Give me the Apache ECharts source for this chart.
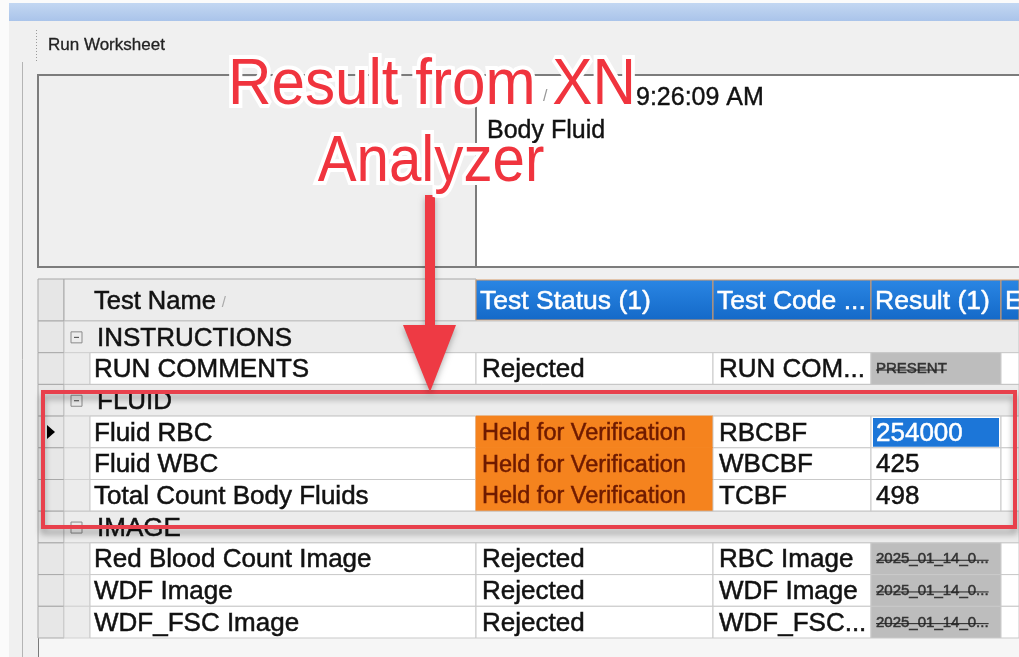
<!DOCTYPE html>
<html>
<head>
<meta charset="utf-8">
<title>Run Worksheet</title>
<script src="https://cdn.jsdelivr.net/npm/echarts@6/dist/echarts.min.js"></script>
<style>
html, body { margin: 0; padding: 0; background: #f0f0f0; }
#container { width: 1019px; height: 657px; }
</style>
</head>
<body>
<div id="container"></div>
<script>
var dom = document.getElementById('container');
var myChart = echarts.init(dom, null, { renderer: 'canvas' });

// table content
var headers = ['Test Name', 'Test Status (1)', 'Test Code ...', 'Result (1)', 'E'];
var rowNames = ['INSTRUCTIONS', 'RUN COMMENTS', 'FLUID', 'Fluid RBC', 'Fluid WBC', 'Total Count Body Fluids',
    'IMAGE', 'Red Blood Count Image', 'WDF Image', 'WDF_FSC Image'];
var rowKinds = ['group', 'item', 'group', 'item', 'item', 'item', 'group', 'item', 'item', 'item'];
var testStatus = ['', 'Rejected', '', 'Held for Verification', 'Held for Verification', 'Held for Verification',
    '', 'Rejected', 'Rejected', 'Rejected'];
var testCode = ['', 'RUN COM...', '', 'RBCBF', 'WBCBF', 'TCBF', '', 'RBC Image', 'WDF Image', 'WDF_FSC...'];
var results = ['', 'PRESENT', '', '254000', '425', '498', '', '2025_01_14_0...', '2025_01_14_0...', '2025_01_14_0...'];
var currentRow = 'Fluid RBC';
var runTime = '9:26:09 AM';
var runType = 'Body Fluid';
var noteLines = ['Result from XN', 'Analyzer'];

// column edges in px from the table's left border (layout only)
var colEdges = [0, 26, 438, 675, 833, 963, 981];
var indent = 52;
var FONT = 'Liberation Sans, Arial, sans-serif';
var DY = 1.5; // nudge text to sit like the original

var measure = document.createElement('canvas').getContext('2d');
function textWidth(s, font) {
    measure.font = font;
    return measure.measureText(s).width;
}

function cell(x0, x1, top, h, fill, stroke) {
    return {
        type: 'rect',
        shape: { x: x0, y: top, width: x1 - x0, height: h },
        style: { fill: fill, stroke: stroke || '#c9c9c9', lineWidth: 1 }
    };
}
function label(s, x, y, size, color) {
    var c = color || '#111';
    return {
        type: 'text',
        style: {
            text: s, x: x, y: y + DY, font: size + 'px ' + FONT, fill: c,
            stroke: c, lineWidth: 0.5, align: 'left', verticalAlign: 'middle'
        }
    };
}

function renderHeader(params, api) {
    var yc = api.coord([0, 0])[1];
    var h = api.size([0, 1])[1];
    var top = yc - h / 2;
    var X = function (v) { return api.coord([v, 0])[0]; };
    var kids = [];
    kids.push(cell(X(colEdges[0]), X(colEdges[1]), top, h, '#e6e6e6', '#a8a8a8'));
    kids.push(cell(X(colEdges[1]), X(colEdges[2]), top, h, '#ececec', '#a8a8a8'));
    kids.push(label(headers[0], X(colEdges[1]) + 30, yc, 25.5, '#111'));
    kids.push({
        type: 'text',
        style: {
            text: '/', x: X(colEdges[1]) + 30 + textWidth(headers[0], '25.5px ' + FONT) + 6, y: yc + 3,
            font: '15px ' + FONT, fill: '#aaa', verticalAlign: 'middle'
        }
    });
    for (var i = 1; i < headers.length; i++) {
        var x0 = X(colEdges[i + 1]), x1 = X(colEdges[i + 2]);
        kids.push({
            type: 'rect',
            shape: { x: x0, y: top + 1, width: x1 - x0, height: h - 2 },
            style: {
                fill: new echarts.graphic.LinearGradient(0, 0, 0, 1, [
                    { offset: 0, color: '#2a86e4' }, { offset: 1, color: '#1469c8' }
                ]),
                stroke: '#d59a68', lineWidth: 1
            }
        });
        kids.push(label(headers[i], x0 + 4, yc, 26.5, '#ffffff'));
    }
    return { type: 'group', children: kids };
}

function renderBody(params, api) {
    var r = api.value(1);
    var yc = api.coord([0, r])[1];
    var h = api.size([0, 1])[1];
    var top = yc - h / 2;
    var X = function (v) { return api.coord([v, r])[0]; };
    var kids = [];
    kids.push(cell(X(colEdges[0]), X(colEdges[1]), top, h, '#e7e7e7', '#a9a9a9'));
    if (rowKinds[r] === 'group') {
        kids.push(cell(X(colEdges[1]), X(colEdges[6]), top, h, '#ececec', '#c4c4c4'));
        var bx = X(colEdges[1]) + 7;
        kids.push({ type: 'rect', shape: { x: bx, y: yc - 5, width: 11, height: 11 }, style: { fill: 'none', stroke: '#8a8a8a', lineWidth: 1 } });
        kids.push({ type: 'line', shape: { x1: bx + 3, y1: yc + 0.5, x2: bx + 8, y2: yc + 0.5 }, style: { stroke: '#444', lineWidth: 1 } });
        kids.push(label(rowNames[r], X(colEdges[1]) + 33, yc, 26, '#111'));
    } else {
        kids.push(cell(X(colEdges[1]), X(indent), top, h, '#ececec', '#d2d2d2'));
        kids.push(cell(X(indent), X(colEdges[2]), top, h, '#ffffff'));
        kids.push(label(rowNames[r], X(indent) + 4, yc, 26));

        var held = testStatus[r] === 'Held for Verification';
        kids.push(cell(X(colEdges[2]), X(colEdges[3]), top, h, held ? '#f5831e' : '#ffffff', held ? '#f5831e' : '#c9c9c9'));
        if (held) {
            kids.push(label(testStatus[r], X(colEdges[2]) + 6, yc, 23.5, '#6e1a00'));
        } else {
            kids.push(label(testStatus[r], X(colEdges[2]) + 6, yc, 26));
        }

        kids.push(cell(X(colEdges[3]), X(colEdges[4]), top, h, '#ffffff'));
        kids.push(label(testCode[r], X(colEdges[3]) + 6, yc, 26));

        var rx0 = X(colEdges[4]), rx1 = X(colEdges[5]);
        if (rowNames[r] === currentRow) {
            kids.push(cell(rx0, rx1, top, h, '#ffffff'));
            kids.push({ type: 'rect', shape: { x: rx0 + 2, y: top + 2, width: rx1 - rx0 - 4, height: h - 3 }, style: { fill: '#1c76d8' } });
            kids.push(label(results[r], rx0 + 5, yc, 26, '#ffffff'));
        } else if (testStatus[r] === 'Rejected') {
            kids.push(cell(rx0, rx1, top, h, '#bdbdbd', '#c9c9c9'));
            var f = '15px ' + FONT;
            var w = Math.min(textWidth(results[r], f), rx1 - rx0 - 8);
            kids.push(label(results[r], rx0 + 5, yc - 1, 15, '#333'));
            kids.push({ type: 'line', shape: { x1: rx0 + 5, y1: yc + 1.5, x2: rx0 + 5 + w, y2: yc + 1.5 }, style: { stroke: '#222', lineWidth: 1 } });
        } else {
            kids.push(cell(rx0, rx1, top, h, '#ffffff'));
            kids.push(label(results[r], rx0 + 5, yc, 26));
        }
        kids.push(cell(rx1, X(colEdges[6]), top, h, '#ffffff'));

        if (rowNames[r] === currentRow) {
            var cx = X(colEdges[0]) + 9;
            kids.push({ type: 'polygon', shape: { points: [[cx, yc - 7], [cx, yc + 7], [cx + 8, yc]] }, style: { fill: '#000' } });
        }
    }
    return { type: 'group', children: kids };
}

var bodyData = rowNames.map(function (n, i) { return [0, i]; });

option = {
    backgroundColor: '#f0f0f0',
    animation: false,
    grid: [
        { left: 38, right: 0, top: 279, height: 42 },
        { left: 38, right: 0, top: 321, height: 317 }
    ],
    xAxis: [
        { type: 'value', gridIndex: 0, min: 0, max: 981, show: false },
        { type: 'value', gridIndex: 1, min: 0, max: 981, show: false }
    ],
    yAxis: [
        { type: 'category', gridIndex: 0, data: ['header'], show: false },
        { type: 'category', gridIndex: 1, data: rowNames, inverse: true, show: false }
    ],
    graphic: [
        // window chrome
        { type: 'rect', z: -10, shape: { x: 0, y: 0, width: 9, height: 657 }, style: { fill: '#fbfbfb' } },
        { type: 'rect', z: -10, shape: { x: 0, y: 0, width: 1019, height: 3 }, style: { fill: '#fbfbfb' } },
        {
            type: 'rect', z: -9, shape: { x: 9, y: 3, width: 1010, height: 18 },
            style: { fill: new echarts.graphic.LinearGradient(0, 0, 0, 1, [{ offset: 0, color: '#c3d7f2' }, { offset: 1, color: '#aac4ea' }]) }
        },
        { type: 'line', z: -9, shape: { x1: 22.5, y1: 62, x2: 22.5, y2: 657 }, style: { stroke: '#b4b4b4', lineWidth: 1 } },
        { type: 'line', z: -9, shape: { x1: 36.5, y1: 30, x2: 36.5, y2: 62 }, style: { stroke: '#9a9a9a', lineWidth: 1, lineDash: [1, 2] } },
        { type: 'text', z: -9, style: { text: 'Run Worksheet', x: 48, y: 45, font: '17px ' + FONT, fill: '#222', stroke: '#222', lineWidth: 0.3, verticalAlign: 'middle' } },
        { type: 'rect', z: -9, shape: { x: 38, y: 75, width: 438, height: 192 }, style: { fill: '#efefef', stroke: '#7c7c7c', lineWidth: 2 } },
        { type: 'rect', z: -9, shape: { x: 476, y: 75, width: 545, height: 192 }, style: { fill: '#ffffff', stroke: '#7c7c7c', lineWidth: 2 } },
        { type: 'text', z: -8, style: { text: '/', x: 543, y: 97, font: '16px ' + FONT, fill: '#999', verticalAlign: 'middle' } },
        { type: 'text', z: -8, style: { text: runTime, x: 636, y: 98, font: '25px ' + FONT, fill: '#111', stroke: '#111', lineWidth: 0.4, verticalAlign: 'middle' } },
        { type: 'text', z: -8, style: { text: runType, x: 487, y: 131, font: '25px ' + FONT, fill: '#111', stroke: '#111', lineWidth: 0.4, verticalAlign: 'middle' } },
        { type: 'rect', z: -9, shape: { x: 38, y: 638, width: 981, height: 19 }, style: { fill: '#f6f6f6' } },
        { type: 'line', z: -8, shape: { x1: 38.5, y1: 279, x2: 38.5, y2: 657 }, style: { stroke: '#7a7a7a', lineWidth: 1 } },

        // red annotation
        {
            type: 'rect', z: 100, shape: { x: 43, y: 392, width: 972, height: 135 },
            style: { fill: 'none', stroke: '#e8404c', lineWidth: 4, shadowBlur: 6, shadowColor: 'rgba(0,0,0,0.35)', shadowOffsetY: 5 }
        },
        {
            type: 'polygon', z: 100,
            shape: { points: [[425, 195], [435, 195], [435, 325], [456, 325], [430, 392], [403, 325], [425, 325]] },
            style: { fill: '#ee3a44', shadowBlur: 6, shadowColor: 'rgba(0,0,0,0.3)', shadowOffsetY: 3 }
        },
        {
            type: 'text', z: 101, x: 228, y: 86, scaleX: 0.94,
            style: { text: noteLines[0], x: 0, y: 0, font: '64px ' + FONT, fill: '#f0343e', stroke: '#ffffff', lineWidth: 8, strokeFirst: true, verticalAlign: 'middle' }
        },
        {
            type: 'text', z: 101, x: 431, y: 163, scaleX: 0.91,
            style: { text: noteLines[1], x: 0, y: 0, font: '64px ' + FONT, fill: '#f0343e', stroke: '#ffffff', lineWidth: 8, strokeFirst: true, align: 'center', verticalAlign: 'middle' }
        }
    ],
    series: [
        {
            type: 'custom',
            xAxisIndex: 0,
            yAxisIndex: 0,
            renderItem: renderHeader,
            data: [[0, 0]]
        },
        {
            type: 'custom',
            xAxisIndex: 1,
            yAxisIndex: 1,
            renderItem: renderBody,
            encode: { x: 0, y: 1 },
            data: bodyData
        }
    ]
};
myChart.setOption(option);

window.addEventListener('resize', function () {
    myChart.resize();
});
</script>
</body>
</html>
